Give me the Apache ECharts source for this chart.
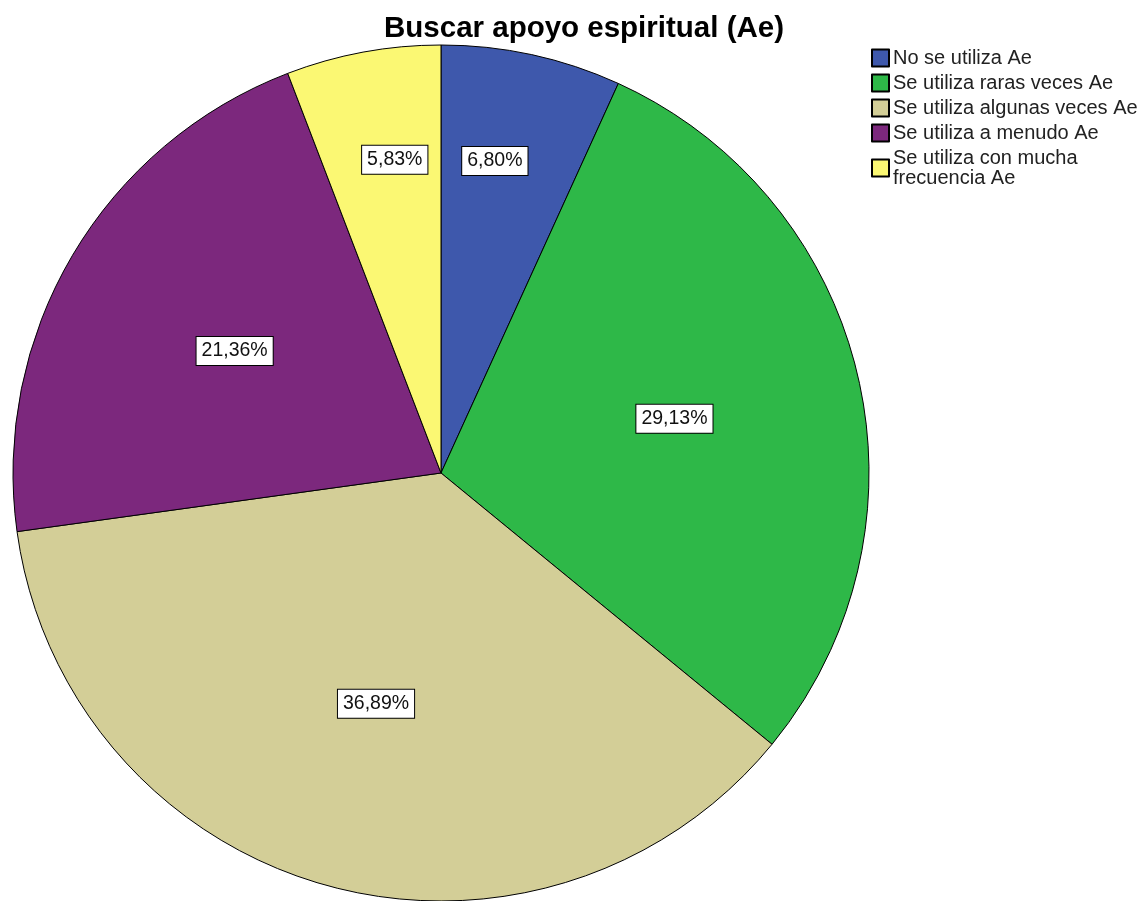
<!DOCTYPE html>
<html>
<head>
<meta charset="utf-8">
<script src="https://cdn.jsdelivr.net/npm/echarts@6/dist/echarts.min.js"></script>
<style>
  html, body { margin: 0; padding: 0; background: #ffffff; }
  #chart { width: 1148px; height: 901px; }
</style>
</head>
<body>
<div id="chart"></div>
<script>
// Categories and percentages (clockwise from 12 o'clock)
const categories = [
  'No se utiliza Ae',
  'Se utiliza raras veces Ae',
  'Se utiliza algunas veces Ae',
  'Se utiliza a menudo Ae',
  'Se utiliza con mucha frecuencia Ae'
];
const percentages = [6.80, 29.13, 36.89, 21.36, 5.83];
const sliceColors = ['#3E58AC', '#2EB848', '#D3CE97', '#7C287D', '#FBF873'];

const CENTER = [441, 473];
const RADIUS = 428;

const chart = echarts.init(document.getElementById('chart'), null, { renderer: 'canvas' });

const total = percentages.reduce((a, b) => a + b, 0);
// Mid-angle of each slice, measured clockwise from the top
const midAngles = [];
let acc = 0;
percentages.forEach(v => {
  midAngles.push(((acc + v / 2) / total) * 2 * Math.PI);
  acc += v;
});

const fmt = v => v.toFixed(2).replace('.', ',') + '%';

chart.setOption({
  backgroundColor: '#ffffff',
  animation: false,
  title: {
    text: 'Buscar apoyo espiritual (Ae)',
    left: 579,
    top: 9,
    textAlign: 'center',
    textStyle: {
      fontFamily: 'Liberation Sans, Arial, sans-serif',
      fontSize: 29.5,
      fontWeight: 'bold',
      color: '#000000'
    }
  },
  legend: {
    orient: 'vertical',
    left: 866,
    top: 43,
    itemWidth: 17,
    itemHeight: 17,
    itemGap: 5,
    icon: 'rect',
    selectedMode: false,
    formatter: name => name === categories[4] ? 'Se utiliza con mucha\nfrecuencia Ae' : name,
    textStyle: {
      fontFamily: 'Liberation Sans, Arial, sans-serif',
      fontSize: 20,
      lineHeight: 20,
      color: '#222222',
      padding: [0, 0, 0, -1]
    }
  },
  series: [{
    type: 'pie',
    center: CENTER,
    radius: RADIUS,
    startAngle: 90,
    clockwise: true,
    avoidLabelOverlap: false,
    data: categories.map((c, i) => ({
      name: c,
      value: percentages[i],
      itemStyle: { color: sliceColors[i] }
    })),
    itemStyle: { borderColor: '#000000', borderWidth: 1 },
    label: {
      show: true,
      position: 'inside',
      formatter: p => fmt(p.value),
      fontFamily: 'Liberation Sans, Arial, sans-serif',
      fontSize: 19.5,
      lineHeight: 20,
      color: '#111111',
      backgroundColor: '#ffffff',
      borderColor: '#000000',
      borderWidth: 1,
      padding: [4, 5]
    },
    labelLine: { show: false },
    labelLayout: p => {
      // narrow slices get their label pulled outward and toward the shared top edge
      const small = percentages[p.dataIndex] < 10;
      const a = midAngles[p.dataIndex] * (small ? 0.8 : 1);
      const f = small ? 0.74 : 0.56;
      const aa = p.dataIndex === categories.length - 1 && small
        ? 2 * Math.PI - (2 * Math.PI - midAngles[p.dataIndex]) * 0.8
        : a;
      return {
        x: CENTER[0] + Math.sin(aa) * RADIUS * f,
        y: CENTER[1] - Math.cos(aa) * RADIUS * f,
        align: 'center',
        verticalAlign: 'middle'
      };
    },
    emphasis: { disabled: true }
  }]
});
</script>
</body>
</html>
